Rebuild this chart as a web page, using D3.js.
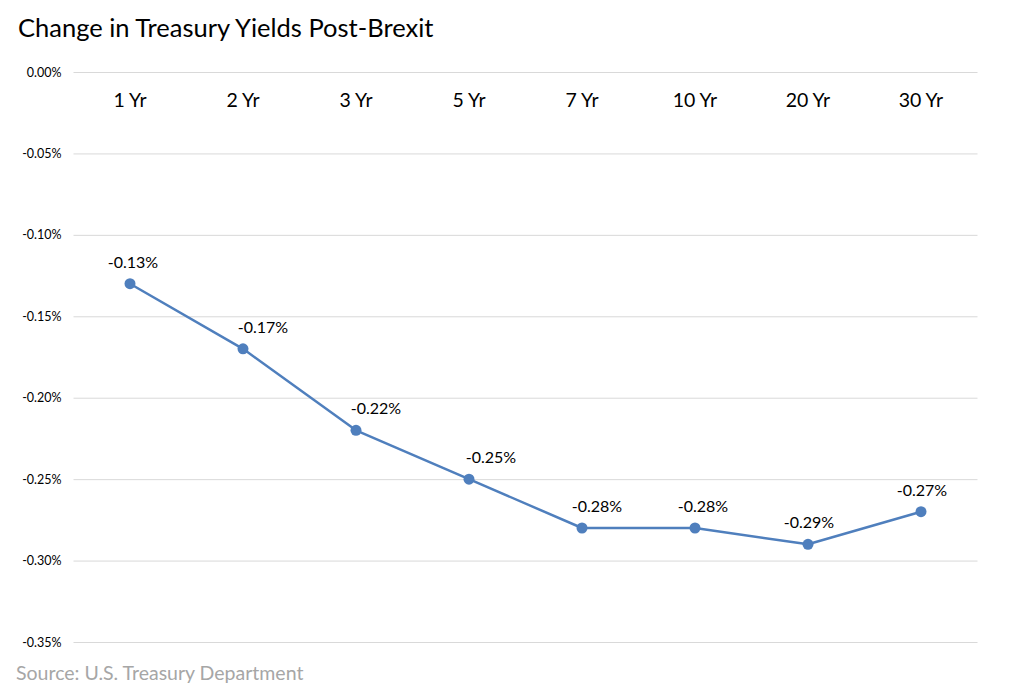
<!DOCTYPE html>
<html>
<head>
<meta charset="utf-8">
<script src="https://cdn.jsdelivr.net/npm/d3@7"></script>
<style>
  body { margin: 0; background: #fff; }
  svg { font-family: "Century Gothic", Lato, "Open Sans", sans-serif; }
</style>
</head>
<body>
<svg></svg>
<script>
    const maturities = ["1 Yr", "2 Yr", "3 Yr", "5 Yr", "7 Yr", "10 Yr", "20 Yr", "30 Yr"];
    const yieldChange = [-0.13, -0.17, -0.22, -0.25, -0.28, -0.28, -0.29, -0.27];
    const yTicks = [0, -0.05, -0.10, -0.15, -0.20, -0.25, -0.30, -0.35];

    // label nudges to the right, as placed in the original
    const labelDx = [3, 20, 20, 22, 15, 8, 1, 1];

    const width = 1031;
    const height = 691;
    const color = "#4f7fbd";

    const svg = d3.select("svg")
        .attr("width", width)
        .attr("height", height);

    const xScale = d3.scaleBand()
        .domain(maturities)
        .range([73.5, 977.5]);

    const yScale = d3.scaleLinear()
        .domain([0, -0.35])
        .range([72, 642]);

    // plain hyphen instead of d3's unicode minus
    const fmt = d => d3.format(".2f")(d).replace("\u2212", "-") + "%";

    // gridlines + y labels
    const yAxis = d3.axisLeft(yScale)
        .tickValues(yTicks)
        .tickSize(-(977.5 - 73.5))
        .tickPadding(12)
        .tickFormat(fmt);

    svg.append("g")
        .attr("transform", "translate(73.5,0)")
        .call(yAxis)
        .call(g => g.select(".domain").remove())
        .call(g => g.selectAll(".tick line").attr("stroke", "#d9d9d9"))
        .call(g => g.selectAll(".tick text")
            .attr("fill", "#000")
            .attr("font-size", 12.5)
            .attr("font-family", "Lato, sans-serif"));

    // category labels at top
    svg.append("g")
        .selectAll("text")
        .data(maturities)
        .enter()
        .append("text")
        .attr("x", d => xScale(d) + xScale.bandwidth() / 2)
        .attr("y", 107)
        .attr("text-anchor", "middle")
        .attr("font-size", 19.5)
        .attr("fill", "#000")
        .text(d => d);

    const data = maturities.map((m, i) => ({ m, v: yieldChange[i], dx: labelDx[i] }));

    const line = d3.line()
        .x(d => xScale(d.m) + xScale.bandwidth() / 2)
        .y(d => yScale(d.v));

    svg.append("path")
        .datum(data)
        .attr("fill", "none")
        .attr("stroke", color)
        .attr("stroke-width", 2.5)
        .attr("stroke-linejoin", "round")
        .attr("d", line);

    svg.selectAll("circle.pt")
        .data(data)
        .enter()
        .append("circle")
        .attr("class", "pt")
        .attr("r", 5.5)
        .attr("fill", color)
        .attr("cx", d => xScale(d.m) + xScale.bandwidth() / 2)
        .attr("cy", d => yScale(d.v));

    svg.selectAll("text.lbl")
        .data(data)
        .enter()
        .append("text")
        .attr("class", "lbl")
        .attr("x", d => xScale(d.m) + xScale.bandwidth() / 2 + d.dx)
        .attr("y", d => yScale(d.v) - 16)
        .attr("text-anchor", "middle")
        .attr("font-size", 16)
        .attr("fill", "#000")
        .text(d => fmt(d.v));

    svg.append("text")
        .attr("x", 18)
        .attr("y", 37)
        .attr("font-size", 25.5)
        .attr("fill", "#000")
        .text("Change in Treasury Yields Post-Brexit");

    svg.append("text")
        .attr("x", 16)
        .attr("y", 680)
        .attr("font-size", 19.5)
        .attr("fill", "#a6a6a6")
        .text("Source: U.S. Treasury Department");
</script>
</body>
</html>
